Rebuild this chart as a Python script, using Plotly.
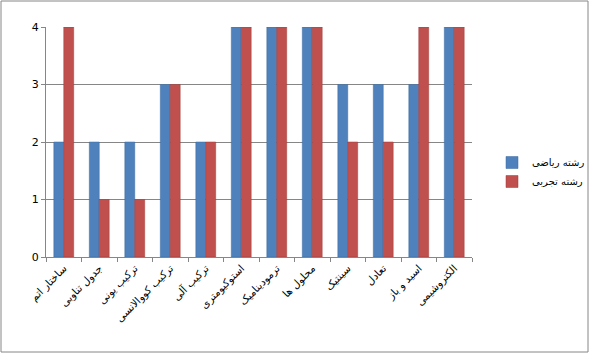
import plotly.graph_objects as go

categories = ["ساختار اتم", "جدول تناوبی", "ترکیب یونی", "ترکیب کووالانسی", "ترکیب آلی",
              "استوکیومتری", "ترمودینامیک", "محلول ها", "سینتیک", "تعادل", "اسید و باز", "الکتروشیمی"]
riazi = [2, 2, 2, 3, 2, 4, 4, 4, 3, 3, 3, 4]
tajrobi = [4, 1, 1, 3, 2, 4, 4, 4, 2, 2, 4, 4]
yticks = [0, 1, 2, 3, 4]

L, R, T, B = 46, 118, 27, 97
W, H = 590, 354
pw, ph = W - L - R, H - T - B

fig = go.Figure()
fig.add_bar(x=categories, y=riazi, name="رشته ریاضی", marker=dict(color="#4F81BD", line=dict(color="#3A6A9E", width=0.5)))
fig.add_bar(x=categories, y=tajrobi, name="رشته تجربی", marker=dict(color="#C0504D", line=dict(color="#9E3B38", width=0.5)))

def px(x):
    return (x - L) / pw
def py(y):
    return (H - B - y) / ph

fig.update_layout(
    width=W, height=H,
    margin=dict(l=L, r=R, t=T, b=B, autoexpand=False),
    paper_bgcolor="white", plot_bgcolor="white",
    barmode="group", bargap=0.44, bargroupgap=0.0,
    font=dict(family="DejaVu Sans", size=11, color="black"),
    legend=dict(x=px(492), y=py(172), xanchor="left", yanchor="middle",
                font=dict(size=10), bgcolor="rgba(0,0,0,0)", tracegroupgap=8,
                itemwidth=30),
    xaxis=dict(tickangle=-45, showline=True, linecolor="#868686", ticks="outside",
               ticklen=4, tickcolor="#868686", tickson="boundaries", showgrid=False,
               tickfont=dict(size=10.5), automargin=False),
    yaxis=dict(range=[0, 4], tickvals=yticks, showline=True, linecolor="#868686",
               ticks="outside", ticklen=4, tickcolor="#868686", gridcolor="#868686",
               gridwidth=1, zeroline=False, tickfont=dict(size=11), automargin=False),
    shapes=[dict(type="rect", xref="paper", yref="paper",
                 x0=px(1), x1=px(588), y0=py(352), y1=py(1),
                 line=dict(color="#868686", width=1), layer="below")],
)

fig.write_html("out.html")
